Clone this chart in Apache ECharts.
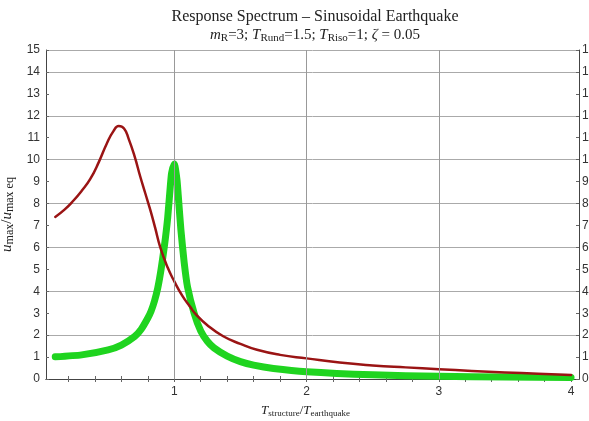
<!DOCTYPE html>
<html>
<head>
<meta charset="utf-8">
<script src="https://cdn.jsdelivr.net/npm/echarts@6/dist/echarts.min.js"></script>
<style>
  html, body { margin: 0; padding: 0; background: #fff; }
  #main { width: 589px; height: 421px; }
</style>
</head>
<body>
<div id="main"></div>
<script>
// values
var redX = [0.10, 0.17, 0.24, 0.30, 0.365, 0.43, 0.49, 0.54, 0.58, 0.62, 0.655, 0.70, 0.743, 0.78, 0.819, 0.855, 0.894, 0.95, 1.0, 1.06, 1.12, 1.16, 1.25, 1.37, 1.5, 1.625, 1.8, 2.0, 2.25, 2.5, 2.75, 3.0, 3.25, 3.5, 3.75, 4.0];
var redY = [7.39, 7.72, 8.15, 8.58, 9.12, 9.9, 10.74, 11.3, 11.53, 11.42, 10.95, 10.15, 9.22, 8.48, 7.7, 6.9, 6.0, 5.08, 4.45, 3.8, 3.29, 2.97, 2.45, 1.95, 1.6, 1.33, 1.1, 0.94, 0.75, 0.62, 0.53, 0.45, 0.37, 0.3, 0.24, 0.18];

var greenX = [0.10, 0.3, 0.5, 0.6, 0.7, 0.75, 0.8, 0.825, 0.85, 0.875, 0.9, 0.925, 0.95, 0.97, 0.98, 1.0, 1.02, 1.03, 1.05, 1.075, 1.1, 1.15, 1.2, 1.25, 1.3, 1.4, 1.5, 1.6, 1.75, 2.0, 2.5, 3.0, 3.5, 4.0];
var greenY = [1.01, 1.1, 1.33, 1.55, 1.94, 2.27, 2.78, 3.1, 3.55, 4.15, 5.0, 6.05, 7.35, 8.8, 9.4, 9.8, 9.1, 8.36, 6.8, 5.3, 4.2, 3.0, 2.19, 1.72, 1.42, 1.04, 0.79, 0.63, 0.48, 0.33, 0.19, 0.125, 0.089, 0.067];

var xLabels = [1, 2, 3, 4];
var xGrid = [1, 2, 3];
var xMinor = [0.2, 0.4, 0.6, 0.8, 1, 1.2, 1.4, 1.6, 1.8, 2, 2.2, 2.4, 2.6, 2.8, 3, 3.2, 3.4, 3.6, 3.8, 4];

function pairs(xs, ys) {
    return xs.map(function (x, i) { return [x, ys[i]]; });
}

var serif = 'Liberation Serif';
var sans = 'Liberation Sans';
// rich styles: n = normal, i = italic, s = subscript
function rich(size, subSize, drop) {
    return {
        n: { fontFamily: serif, fontSize: size, fontWeight: 'normal', color: '#222', lineHeight: size + 1, verticalAlign: 'top' },
        i: { fontFamily: serif, fontSize: size, fontWeight: 'normal', fontStyle: 'italic', color: '#222', lineHeight: size + 1, verticalAlign: 'top' },
        s: { fontFamily: serif, fontSize: subSize, fontWeight: 'normal', color: '#222', lineHeight: subSize + 1, padding: [drop, 0, 0, 0], verticalAlign: 'bottom' }
    };
}

var myChart = echarts.init(document.getElementById('main'));
myChart.setOption({
    animation: false,
    title: [
        {
            text: 'Response Spectrum \u2013 Sinusoidal Earthquake',
            left: 310, top: 4, textAlign: 'center',
            textStyle: { fontFamily: serif, fontSize: 16, fontWeight: 'normal', color: '#222' }
        },
        {
            text: '{i|m}{s|R}{n|=3; }{i|T}{s|Rund}{n|=1.5; }{i|T}{s|Riso}{n|=1; }{i|\u03b6}{n| = 0.05}',
            left: 310, top: 23, textAlign: 'center',
            textStyle: { fontWeight: 'normal', rich: rich(15, 11, 7) }
        }
    ],
    grid: { left: 46, right: 10, top: 50, bottom: 42, containLabel: false, outerBoundsMode: 'none' },
    xAxis: [
        {
            type: 'value', min: 0.03, max: 4.06, position: 'bottom',
            name: '{i|T}{s|structure}{n|/}{i|T}{s|earthquake}',
            nameLocation: 'middle', nameGap: 22,
            nameTextStyle: { rich: rich(13, 9, 6), padding: [0, 14, 0, 0] },
            axisLine: { lineStyle: { color: '#444', width: 1 } },
            axisTick: { inside: true, length: 3, customValues: xMinor, lineStyle: { color: '#666' } },
            axisLabel: { customValues: xLabels, margin: 7, fontFamily: sans, fontSize: 12, color: '#333' },
            splitLine: { show: false }
        },
        {
            type: 'value', min: 0.03, max: 4.06, position: 'top',
            axisLine: { lineStyle: { color: '#444', width: 1 } },
            axisTick: { inside: true, length: 3, customValues: xMinor, lineStyle: { color: '#666' } },
            axisLabel: { show: false },
            splitLine: { show: false }
        }
    ],
    yAxis: [
        {
            type: 'value', min: 0, max: 15, interval: 1, position: 'left',
            name: '{i|u}{s|max}{n|/}{i|u}{s|max eq}',
            nameLocation: 'middle', nameGap: 26, nameRotate: 90,
            nameTextStyle: { rich: rich(15, 12, 7) },
            axisLine: { show: true, lineStyle: { color: '#444', width: 1 } },
            axisTick: { show: true, inside: true, length: 3, lineStyle: { color: '#666' } },
            axisLabel: { margin: 6, fontFamily: sans, fontSize: 12, color: '#333' },
            splitLine: { show: false }
        },
        {
            type: 'value', min: 0, max: 15, interval: 1, position: 'right',
            axisLine: { show: true, lineStyle: { color: '#444', width: 1 } },
            axisTick: { show: true, inside: true, length: 3, lineStyle: { color: '#666' } },
            axisLabel: { margin: 3, fontFamily: sans, fontSize: 12, color: '#333' },
            splitLine: { show: false }
        },
        {
            type: 'value', min: 0, max: 15, interval: 2, position: 'left',
            axisLine: { show: false }, axisTick: { show: false }, axisLabel: { show: false },
            splitLine: { show: true, lineStyle: { color: '#aaa', width: 1 } }
        }
    ],
    series: [
        {
            type: 'line', data: [], xAxisIndex: 0, yAxisIndex: 0, z: 1,
            markLine: {
                silent: true, symbol: 'none', label: { show: false },
                lineStyle: { color: '#999', width: 1, type: 'solid' },
                data: xGrid.map(function (v) { return { xAxis: v }; })
            }
        },
        {
            name: 'green', type: 'line', xAxisIndex: 0, yAxisIndex: 0, z: 3,
            data: pairs(greenX, greenY),
            smooth: 0.2, showSymbol: false,
            lineStyle: { color: '#1fd41f', width: 7, cap: 'round', join: 'round' }
        },
        {
            name: 'red', type: 'line', xAxisIndex: 0, yAxisIndex: 0, z: 4,
            data: pairs(redX, redY),
            smooth: 0.5, showSymbol: false,
            lineStyle: { color: '#9a1414', width: 2.5, cap: 'round', join: 'round' }
        }
    ]
});
</script>
</body>
</html>
